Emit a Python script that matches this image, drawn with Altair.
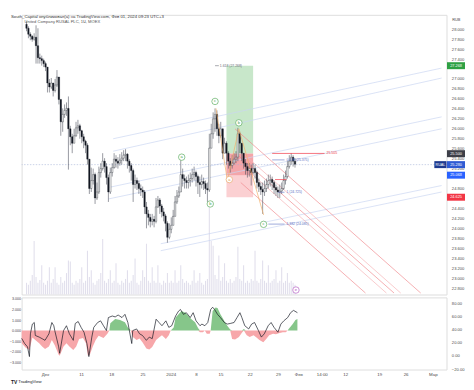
import altair as alt
import pandas as pd

TITLE = "South_Capital опубликовал(а) на TradingView.com, Фев 01, 2024 09:23 UTC+3"
SYMBOL = "United Company RUSAL PLC, 1Ч, MOEX"

# ---------------- candles (hourly, sampled) ----------------
first_open = 28.10
closes = [28.02, 27.90, 27.86, 27.80, 27.84, 27.67, 27.43, 27.41, 27.37, 27.31,
          27.24, 26.92, 26.84, 26.92, 26.77, 26.88, 27.04, 26.59, 26.14, 26.29,
          26.37, 26.41, 26.00, 25.84, 25.71, 25.86, 26.02, 26.06, 25.96, 25.84,
          25.75, 25.67, 25.39, 24.80, 24.96, 25.08, 24.61, 24.73, 25.12, 25.20,
          25.35, 25.24, 25.02, 24.73, 25.12, 25.22, 25.39, 25.35, 25.31, 25.37,
          25.41, 25.47, 25.49, 25.35, 25.26, 25.16, 24.88, 24.96, 24.90, 24.80,
          24.77, 24.73, 24.43, 24.29, 24.22, 24.14, 24.18, 24.14, 24.43, 24.57,
          24.45, 24.33, 24.25, 24.10, 23.82, 23.98, 24.06, 24.24, 24.53, 24.65,
          24.73, 25.08, 25.00, 24.96, 24.92, 24.96, 25.00, 25.08, 25.12, 25.04,
          24.92, 24.88, 24.94, 24.90, 24.80, 24.77, 25.61, 25.90, 26.20, 26.29,
          26.00, 25.86, 26.00, 25.51, 25.71, 25.51, 25.35, 25.26, 25.31, 25.39,
          25.43, 25.90, 25.71, 25.51, 25.31, 25.24, 25.16, 25.20, 25.12, 25.20,
          25.12, 24.92, 24.84, 24.78, 24.73, 24.80, 24.88, 24.96, 24.98, 24.92,
          24.82, 24.77, 24.73, 24.75, 24.80, 24.96, 25.04, 25.24, 25.35, 25.43,
          25.35, 25.29]
highs = [28.16, 28.06, 27.94, 27.88, 27.92, 28.08, 28.02, 27.51, 27.47, 27.41,
         27.35, 27.24, 27.00, 27.02, 26.92, 27.00, 27.18, 26.96, 26.53, 26.41,
         26.49, 26.53, 26.65, 26.06, 25.90, 26.00, 26.14, 26.18, 26.10, 25.98,
         25.90, 25.78, 25.71, 25.39, 25.22, 25.20, 25.12, 24.92, 25.24, 25.31,
         25.51, 25.41, 25.31, 25.08, 25.22, 25.31, 25.51, 25.47, 25.43, 25.49,
         25.53, 25.57, 25.59, 25.51, 25.39, 25.31, 25.20, 25.08, 25.02, 24.96,
         24.88, 24.84, 24.77, 24.53, 24.37, 24.29, 24.29, 24.25, 24.61, 24.65,
         24.61, 24.49, 24.41, 24.29, 24.14, 24.10, 24.22, 24.37, 24.65, 24.77,
         24.84, 25.41, 25.20, 25.08, 25.04, 25.08, 25.12, 25.20, 25.24, 25.16,
         25.08, 25.04, 25.08, 25.02, 24.96, 24.92, 25.90, 26.10, 26.33, 26.41,
         26.37, 26.10, 26.14, 25.98, 25.82, 25.75, 25.55, 25.41, 25.47, 25.51,
         25.55, 26.02, 25.94, 25.71, 25.51, 25.39, 25.31, 25.31, 25.28, 25.31,
         25.28, 25.16, 25.00, 24.92, 24.92, 24.96, 25.00, 25.08, 25.08, 25.04,
         24.96, 24.88, 24.84, 24.88, 24.92, 25.08, 25.16, 25.35, 25.47, 25.51,
         25.47, 25.41]
lows = [27.96, 27.82, 27.78, 27.75, 27.77, 27.31, 27.31, 27.31, 27.27, 27.24,
        27.16, 26.73, 26.73, 26.80, 26.65, 26.73, 26.84, 26.49, 25.86, 25.94,
        26.22, 26.26, 25.18, 25.67, 25.51, 25.71, 25.84, 25.90, 25.80, 25.71,
        25.61, 25.51, 25.28, 24.69, 24.73, 24.88, 24.49, 24.57, 24.69, 25.02,
        25.16, 25.12, 24.88, 24.53, 24.69, 25.04, 25.20, 25.22, 25.20, 25.26,
        25.28, 25.35, 25.35, 25.20, 25.12, 24.96, 24.53, 24.80, 24.77, 24.69,
        24.65, 24.61, 24.29, 24.00, 24.06, 24.02, 24.06, 24.02, 24.10, 24.41,
        24.29, 24.22, 24.14, 23.94, 23.71, 23.78, 23.90, 24.10, 24.29, 24.49,
        24.61, 24.73, 24.84, 24.80, 24.80, 24.80, 24.84, 24.92, 24.96, 24.84,
        24.69, 24.63, 24.80, 24.77, 24.69, 24.53, 24.73, 25.61, 25.80, 25.94,
        25.86, 25.71, 25.82, 25.39, 25.51, 25.28, 25.20, 25.12, 25.20, 25.28,
        25.31, 25.35, 25.51, 25.35, 25.20, 25.08, 25.02, 25.04, 24.86, 25.08,
        25.00, 24.80, 24.73, 24.67, 24.29, 24.65, 24.73, 24.80, 24.84, 24.77,
        24.69, 24.65, 24.61, 24.61, 24.69, 24.77, 24.88, 25.00, 25.20, 25.28,
        25.24, 25.22]
volumes = [120, 100, 140, 200, 550, 180, 120, 150, 300, 120,
           100, 140, 280, 120, 160, 280, 120, 100, 180, 120,
           140, 220, 350, 340, 120, 100, 140, 120, 160, 280,
           120, 140, 450, 180, 250, 120, 100, 140, 160, 220,
           570, 140, 120, 160, 250, 120, 140, 320, 120, 100,
           140, 120, 160, 250, 120, 140, 200, 370, 120, 100,
           140, 250, 180, 520, 140, 120, 280, 140, 120, 300,
           120, 100, 140, 120, 220, 120, 140, 120, 250, 120,
           140, 300, 160, 120, 140, 120, 100, 140, 250, 120,
           140, 220, 120, 100, 140, 160, 900, 550, 500, 200,
           160, 400, 140, 180, 320, 140, 120, 160, 120, 140,
           180, 490, 160, 140, 300, 120, 140, 120, 160, 140,
           450, 140, 120, 160, 350, 140, 120, 300, 120, 140,
           160, 250, 120, 140, 280, 120, 140, 220, 120, 140,
           120, 100]

price_ticks = [22.8, 23.0, 23.2, 23.4, 23.6, 23.8, 24.0, 24.2, 24.4, 24.6,
               24.8, 25.0, 25.2, 25.4, 25.6, 25.8, 26.0, 26.2, 26.4, 26.6,
               26.8, 27.0, 27.2, 27.4, 27.6, 27.8, 28.0]
date_ticks = [12, 30.5, 46, 62, 76.5, 89.5, 102, 117, 131.5, 142, 154, 166, 183.5, 197, 211]
date_labels = ["Дек", "11", "18", "25", "2024", "8", "15", "22", "29", "Фев",
               "14:00", "12", "19", "26", "Мар"]

# ---------------- oscillator ----------------
osc_hist_t = [0, 2, 4, 5.5, 7, 9, 10.5, 12, 14, 15.5,
              17, 19, 19.5, 21.5, 23, 24.5, 26.5, 28, 29.5, 31.5,
              33, 34, 35, 36.5, 38, 39.5, 42, 44, 45, 45.5,
              48, 50.5, 53, 54.5, 56, 57, 59, 60.5, 62, 64,
              65.5, 67, 69, 70.5, 72, 74, 75.5, 76.5, 78, 79,
              80.5, 82, 84, 85.5, 87, 89, 90.5, 91.5, 93, 94,
              95, 96.5, 97, 98, 99.5, 100.5, 102, 104, 105.5, 107,
              108, 109.5, 111.5, 113, 114, 115, 115.5, 117, 119, 120.5,
              122, 124, 125.5, 127, 129, 130.5, 132, 134, 135.5, 136.5,
              137, 139, 140.5, 141.5]
osc_hist_v = [-1.2, -1.6, -1.85, -0.65, -0.9, -1.2, -1.5, -1.75, -1.5, -0.9,
              -1.4, -2.3, -2.4, -1.5, -1.2, -1.5, -1.85, -1.5, -0.8, -0.7,
              -1.2, -2.4, -2.3, -1.5, -0.9, -0.5, -0.7, -0.3, 0.0, 0.7,
              1.1, 1.0, 0.8, 0.3, 0.0, -0.6, -0.9, -0.75, -1.1, -1.7,
              -1.8, -1.55, -0.9, -0.65, -0.45, -0.8, -0.45, 0.0, 0.3, 1.25,
              1.55, 1.85, 1.7, 1.4, 1.1, 0.8, 0.25, -0.15, -0.15, 0.0,
              -0.3, -0.3, 0.0, 1.85, 2.2, 2.15, 1.55, 0.9, 0.45, 0.1,
              -0.8, -0.85, -0.6, -0.2, 0.15, -0.3, -0.45, -0.6, -0.45, -0.65,
              -0.9, -1.1, -0.8, -0.45, -0.3, -0.35, -0.25, -0.15, -0.15, 0.0,
              0.15, 0.6, 1.0, 1.1]
osc_line_t = [0, 1.5, 3, 4, 4.5, 5.5, 6.5, 7, 9, 10.5,
              12, 14, 15.5, 16.5, 17, 19, 19.5, 21.5, 23, 24.5,
              26.5, 27.5, 29, 30.5, 32, 33.5, 34.5, 36, 37, 39,
              40.5, 42, 43.5, 44.5, 46.5, 48, 49.5, 51.5, 53, 54.5,
              56.5, 57, 59, 60.5, 62, 64, 65.5, 67, 69, 70.5,
              72, 74, 75.5, 77, 79, 80.5, 81.5, 83, 84.5, 86.5,
              88, 89.5, 91.5, 92.5, 94, 95.5, 97, 98, 99, 100.5,
              102, 104, 105.5, 107, 109, 110.5, 112, 113, 114.5, 116.5,
              118, 119.5, 121.5, 123, 124.5, 126.5, 128, 129.5, 131.5, 133,
              134.5, 136.5, 138, 139.5, 141.5]
osc_line_v = [26.7, 19.0, 13.8, -1.0, 33.6, 48.4, 50.8, 31.1, 28.6, 26.2,
              23.7, 33.6, 50.8, 45.9, 38.5, 13.8, 4.0, 38.5, 45.9, 33.6,
              23.7, 49.3, 52.3, 43.4, 36.0, 18.8, -1.0, 28.6, 43.4, 50.8,
              53.3, 45.9, 38.5, 58.3, 60.7, 59.3, 62.2, 58.3, 63.2, 50.8,
              18.8, 38.5, 41.0, 33.6, 31.1, 23.7, 28.6, 26.2, 55.8, 50.8,
              45.9, 53.3, 43.4, 45.9, 60.7, 68.1, 70.6, 63.2, 65.7, 58.3,
              65.7, 53.3, 45.9, 48.4, 45.9, 50.8, 70.6, 74.0, 70.6, 63.2,
              58.3, 50.8, 48.4, 49.3, 50.8, 58.3, 65.7, 58.3, 45.9, 41.0,
              48.4, 50.8, 38.5, 28.6, 33.6, 45.9, 50.8, 43.4, 36.0, 48.4,
              53.3, 58.3, 65.7, 69.2, 65.7]

# ---------------- drawings ----------------
box_t1 = [105, 105, 105]
box_t2 = [119, 119, 119]
box_top = [27.268, 25.50, 25.50]
box_bot = [25.50, 24.625, 25.068]
box_fill = ["#c8e7ca", "#fbd0d2", "#f4a5a9"]

chan_t1 = [45.5, 45.5, 43, 43, 70.5, 70.5]
chan_p1 = [25.80, 25.55, 24.82, 24.59, 23.69, 23.55]
chan_t2 = [218, 218, 218, 218, 218, 218]
chan_p2 = [27.22, 27.02, 26.24, 26.00, 24.86, 24.73]

red_t1 = [109.5, 113.5, 111, 114.5, 112.5]
red_p1 = [26.00, 25.51, 25.47, 25.22, 24.92]
red_t2 = [207, 196.5, 193, 189, 178]
red_p2 = [22.70, 22.70, 22.70, 22.70, 22.70]
red_col = ["#f08b8f", "#f6b3b5", "#f08b8f", "#f6b3b5", "#f08b8f"]

hline_t1 = [129, 130.5]
hline_t2 = [156.5, 136.5]
hline_p = [25.505, 24.98]
hline_label_t = [157.5]
hline_label_p = [25.505]
hline_label = ["25.505"]

fib_t1 = [129, 132, 127, 99]
fib_t2 = [135.5, 135.5, 135.5, 101]
fib_p = [25.375, 24.725, 24.085, 27.268]
fib_text_t = [136.5, 136.5, 136.5, 101.5]
fib_text = ["0.618 (25.375)", "1 (24.725)", "1.382 (24.085)", "1.618 (27.268)"]
fib_col = ["#5a6fc2", "#5a6fc2", "#5a6fc2", "#6a6d78"]

wave_t = [99.5, 105.5, 111.5, 124.5]
wave_p = [26.41, 24.96, 26.00, 24.27]

mark_t = [81.5, 96.5, 99, 111.5, 106.5, 124.5, 141.5]
mark_p = [25.43, 24.49, 26.55, 26.12, 24.98, 24.08, 22.76]
mark_lab = ["a", "b", "c", "b", "a", "c", "e"]
mark_col = ["#43a047", "#43a047", "#43a047", "#43a047", "#e39b55", "#43a047", "#ab47bc"]

tag_p = [27.268, 25.500, 25.280, 25.068, 24.625]
tag_text = ["27.268", "25.500", "25.280", "25.068", "24.625"]
tag_fill = ["#2ea043", "#3d3f48", "#2f5bd3", "#2962ff", "#f23645"]
last_price = 25.28

# ---------------- layout constants ----------------
W, H_MAIN, H_OSC = 436, 287, 74
FONT = "Liberation Sans"
LABEL_C = "#4a4a4a"

xs = alt.Scale(domain=[0, 218], nice=False, zero=False)
ps = alt.Scale(domain=[22.67, 28.29], nice=False, zero=False)

# axis labels hidden where a price tag covers them (as TradingView does)
hide_cond = " || ".join(f"abs(datum.value - {p}) < 0.075" for p in tag_p)
price_axis = alt.Axis(orient="right", values=price_ticks,
                      labelExpr=f"({hide_cond}) ? '' : format(datum.value, '.3f')",
                      labelFontSize=4.2, labelColor=LABEL_C, ticks=False, domain=False,
                      grid=False, title=None, labelPadding=5, labelOverlap=False, labelFlush=False)


def X(f="t"):
    return alt.X(f"{f}:Q", scale=xs, axis=None)


def Y(f):
    return alt.Y(f"{f}:Q", scale=ps, axis=price_axis)


candles = pd.DataFrame({
    "t": list(range(len(closes))),
    "open": [first_open] + closes[:-1],
    "close": closes, "high": highs, "low": lows, "vol": volumes,
})

vol = alt.Chart(candles).mark_bar(width=1.1, color="#e1dfec").encode(
    x=X(), y=alt.Y("vol:Q", scale=alt.Scale(domain=[0, 2870], nice=False, zero=True), axis=None))

boxes = alt.Chart(pd.DataFrame({"t1": box_t1, "t2": box_t2, "top": box_top, "bot": box_bot,
                                "fill": box_fill})).mark_rect().encode(
    x=X("t1"), x2="t2", y=Y("top"), y2="bot", color=alt.Color("fill:N", scale=None))

chan = alt.Chart(pd.DataFrame({"t1": chan_t1, "t2": chan_t2, "p1": chan_p1, "p2": chan_p2})
                 ).mark_rule(color="#cad5f1", strokeWidth=0.7).encode(
    x=X("t1"), x2="t2", y=Y("p1"), y2="p2")

reds = alt.Chart(pd.DataFrame({"t1": red_t1, "t2": red_t2, "p1": red_p1, "p2": red_p2,
                               "col": red_col})).mark_rule(strokeWidth=0.7).encode(
    x=X("t1"), x2="t2", y=Y("p1"), y2="p2", color=alt.Color("col:N", scale=None))

lastline = alt.Chart(pd.DataFrame({"p": [last_price]})).mark_rule(
    color="#a6b4d8", strokeWidth=0.6, strokeDash=[1.5, 1.5]).encode(y=Y("p"))

wicks = alt.Chart(candles).transform_calculate(
    hi="max(datum.high, datum.open, datum.close)",
    lo="min(datum.low, datum.open, datum.close)").mark_rule(
    color="#50535e", strokeWidth=0.6).encode(x=X(), y=Y("lo"), y2="hi")

bodies = alt.Chart(candles).mark_bar(width=1.5, stroke="#131722", strokeWidth=0.35).encode(
    x=X(), y=Y("open"), y2="close",
    fill=alt.condition("datum.close >= datum.open", alt.value("#ffffff"), alt.value("#131722")))

wave = alt.Chart(pd.DataFrame({"t": wave_t, "p": wave_p, "i": list(range(len(wave_t)))})
                 ).mark_line(color="#f2b06a", strokeWidth=0.7).encode(
    x=X(), y=Y("p"), order="i:Q")

hlines = alt.Chart(pd.DataFrame({"t1": hline_t1, "t2": hline_t2, "p": hline_p})).mark_rule(
    color="#f23645", strokeWidth=0.7).encode(x=X("t1"), x2="t2", y=Y("p"))
hl_text = alt.Chart(pd.DataFrame({"t": hline_label_t, "p": hline_label_p, "s": hline_label})
                    ).mark_text(align="left", fontSize=3.6, color="#f23645").encode(
    x=X(), y=Y("p"), text="s")

fib_lines = alt.Chart(pd.DataFrame({"t1": fib_t1, "t2": fib_t2, "p": fib_p, "col": fib_col})
                      ).mark_rule(strokeWidth=0.6).encode(
    x=X("t1"), x2="t2", y=Y("p"), color=alt.Color("col:N", scale=None))
fib_labels = alt.Chart(pd.DataFrame({"t": fib_text_t, "p": fib_p, "s": fib_text, "col": fib_col})
                       ).mark_text(align="left", fontSize=3.5).encode(
    x=X(), y=Y("p"), text="s", color=alt.Color("col:N", scale=None))

mk_df = pd.DataFrame({"t": mark_t, "p": mark_p, "lab": mark_lab, "col": mark_col})
markers = alt.Chart(mk_df).mark_circle(size=44, fill="white", opacity=1, strokeWidth=0.6).encode(
    x=X(), y=Y("p"), stroke=alt.Color("col:N", scale=None))
marker_txt = alt.Chart(mk_df).mark_text(fontSize=4.2, baseline="middle").encode(
    x=X(), y=Y("p"), text="lab", color=alt.Color("col:N", scale=None))

tag_df = pd.DataFrame({"p": tag_p, "s": tag_text, "fill": tag_fill})
tags = alt.Chart(tag_df).transform_calculate(
    top="datum.p + 0.07", bot="datum.p - 0.07").mark_rect().encode(
    x=alt.value(W + 0.5), x2=alt.value(W + 19), y=Y("top"), y2="bot",
    color=alt.Color("fill:N", scale=None))
tag_txt = alt.Chart(tag_df).mark_text(color="white", fontSize=4, baseline="middle").encode(
    x=alt.value(W + 9.8), y=Y("p"), text="s")

rual_df = pd.DataFrame({"p": [last_price], "s": ["RUAL"]})
rual = alt.Chart(rual_df).transform_calculate(
    top="datum.p + 0.07", bot="datum.p - 0.07").mark_rect(color="#1d3a8f").encode(
    x=alt.value(W - 12.5), x2=alt.value(W), y=Y("top"), y2="bot")
rual_txt = alt.Chart(rual_df).mark_text(color="white", fontSize=3.8, baseline="middle").encode(
    x=alt.value(W - 6.2), y=Y("p"), text="s")

title_txt = alt.Chart(pd.DataFrame({"s": [TITLE]})).mark_text(
    align="left", baseline="top", fontSize=4.4, color="#333333").encode(
    x=alt.value(-11), y=alt.value(0.3), text="s")
symbol_txt = alt.Chart(pd.DataFrame({"s": [SYMBOL]})).mark_text(
    align="left", baseline="top", fontSize=4.2, color="#555555").encode(
    x=alt.value(3), y=alt.value(5.2), text="s")
rub_txt = alt.Chart(pd.DataFrame({"s": ["RUB"]})).mark_text(
    align="center", baseline="middle", fontSize=4, color=LABEL_C).encode(
    x=alt.value(W + 10), y=alt.value(5), text="s")

price_group = alt.layer(boxes, chan, reds, lastline, wicks, bodies, wave, hlines, hl_text,
                        fib_lines, fib_labels, markers, marker_txt, rual, rual_txt,
                        tags, tag_txt, title_txt, symbol_txt, rub_txt)
main = alt.layer(vol, price_group).resolve_scale(y="independent").properties(
    width=W, height=H_MAIN)

# ---------------- oscillator pane ----------------
label_expr = " : ".join(f"datum.value == {v} ? '{s}'" for v, s in zip(date_ticks, date_labels)) + " : ''"
date_axis = alt.Axis(orient="bottom", values=date_ticks, labelExpr=label_expr, labelFontSize=4.5,
                     labelColor=LABEL_C, ticks=False, domain=False, grid=False, title=None,
                     labelPadding=2, labelOverlap=False, labelFlush=False)
XO = alt.X("t:Q", scale=xs, axis=date_axis)
hs = alt.Scale(domain=[-3.7, 3.15], nice=False, zero=False)
hist_axis = alt.Axis(orient="left", values=[-3, -2, -1, 0, 1, 2, 3], format=".3f",
                     labelFontSize=3.8, labelColor=LABEL_C, ticks=False, domain=False,
                     grid=False, title=None, labelPadding=1, labelOverlap=False, labelFlush=False)
line_axis = alt.Axis(orient="right", values=[80, 60, 40, 20, 0, -20], format=".2f",
                     labelFontSize=4.2, labelColor=LABEL_C, ticks=False, domain=False,
                     grid=False, title=None, labelPadding=5, labelOverlap=False, labelFlush=False)

osc_h = pd.DataFrame({"t": osc_hist_t, "v": osc_hist_v})
osc_l = pd.DataFrame({"t": osc_line_t, "v": osc_line_v})

neg = alt.Chart(osc_h).transform_calculate(n="min(datum.v, 0)").mark_area(
    color="#f7a7aa", opacity=1).encode(x=XO, y=alt.Y("n:Q", scale=hs, axis=hist_axis), y2=alt.datum(0))
pos = alt.Chart(osc_h).transform_calculate(n="max(datum.v, 0)").mark_area(
    color="#86c68a", opacity=1).encode(x=XO, y=alt.Y("n:Q", scale=hs, axis=hist_axis), y2=alt.datum(0))
logo1 = alt.Chart(pd.DataFrame({"s": ["TV"]})).mark_text(
    align="left", baseline="middle", fontSize=5, fontWeight="bold", color="#131722").encode(
    x=alt.value(-11), y=alt.value(87), text="s")
logo2 = alt.Chart(pd.DataFrame({"s": ["TradingView"]})).mark_text(
    align="left", baseline="middle", fontSize=4.4, color="#131722").encode(
    x=alt.value(-3.5), y=alt.value(87), text="s")
osc_line = alt.Chart(osc_l).mark_line(color="#131722", strokeWidth=0.7).encode(
    x=XO, y=alt.Y("v:Q", scale=alt.Scale(domain=[-20.7, 88.9], nice=False, zero=False), axis=line_axis))

osc = alt.layer(alt.layer(neg, pos, logo1, logo2), osc_line).resolve_scale(y="independent").properties(
    width=W, height=H_OSC)

chart = alt.vconcat(main, osc, spacing=1).properties(padding=0).configure_view(
    stroke="#dfe2ea", strokeWidth=0.8).configure(font=FONT, background="white")

chart.save("out.html", embed_options={"renderer": "svg", "actions": False})
